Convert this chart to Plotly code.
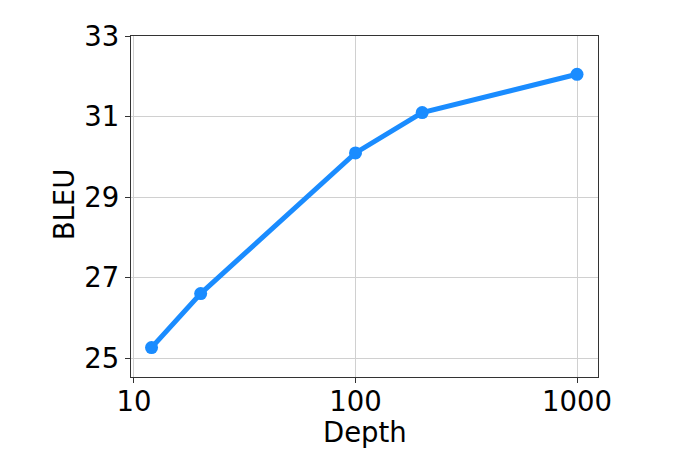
import plotly.graph_objects as go

depth = [12, 20, 100, 200, 1000]
bleu = [25.27, 26.61, 30.10, 31.10, 32.05]
x_ticks = [10, 100, 1000]
x_tick_labels = ["10", "100", "1000"]
y_ticks = [25, 27, 29, 31, 33]

fig = go.Figure()
fig.add_trace(go.Scatter(
    x=depth, y=bleu, mode="lines+markers",
    line=dict(color="#1a8cff", width=5),
    marker=dict(color="#1a8cff", size=13),
    showlegend=False,
))

axis_common = dict(
    showline=True, linecolor="#333333", linewidth=1.3, mirror=True,
    showgrid=True, gridcolor="#d0d0d0", gridwidth=1.2,
    ticks="outside", ticklen=5, tickcolor="#333333", tickwidth=1.3,
    tickfont=dict(family="DejaVu Sans", size=27.5, color="black"),
    zeroline=False,
)

title_font = dict(family="DejaVu Sans", size=27.5, color="black")

fig.update_layout(
    width=688, height=470,
    paper_bgcolor="white", plot_bgcolor="white",
    margin=dict(l=123, r=98, t=19, b=101),
    xaxis=dict(type="log", range=[0.9865, 3.0948],
               tickvals=x_ticks, ticktext=x_tick_labels,
               ticklabelstandoff=-5,
               **axis_common),
    yaxis=dict(range=[24.54, 33.0], tickvals=y_ticks,
               **axis_common),
    annotations=[
        dict(text="Depth", xref="paper", yref="paper", x=0.5, y=-0.16,
             xanchor="center", yanchor="middle", showarrow=False, font=title_font),
        dict(text="BLEU", xref="paper", yref="paper", x=-0.1445, y=0.505,
             xanchor="center", yanchor="middle", textangle=-90, showarrow=False, font=title_font),
    ],
)

fig.write_html("out.html")
